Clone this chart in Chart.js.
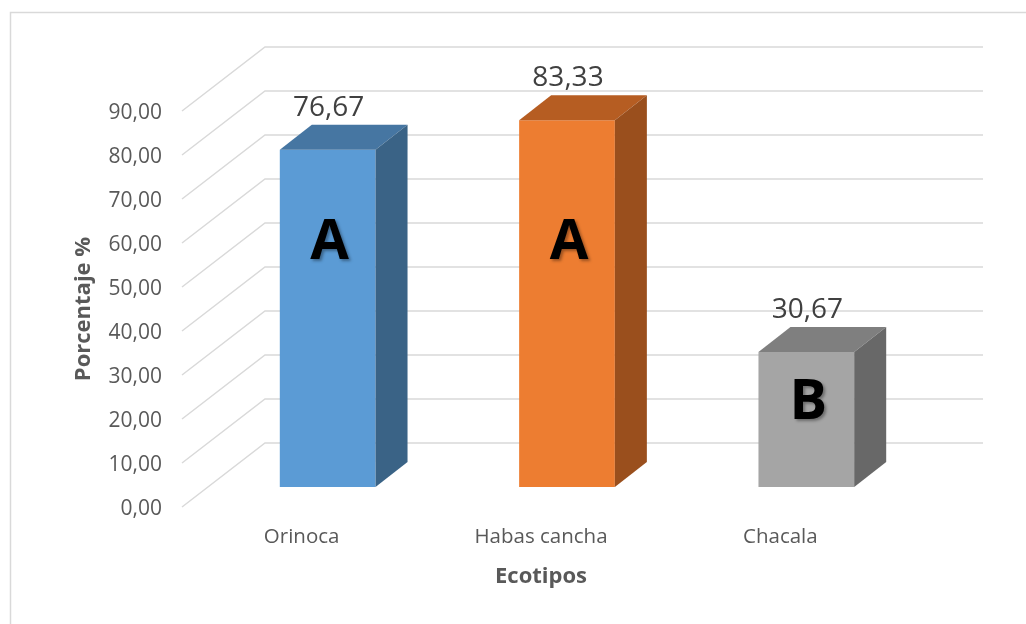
<!DOCTYPE html>
<html lang="es">
<head>
<meta charset="utf-8">
<title>Porcentaje por ecotipo</title>
<script src="https://cdn.jsdelivr.net/npm/chart.js@4.4.1/dist/chart.umd.min.js"></script>
<style>
  html, body { margin: 0; padding: 0; background: #fff; }
  #grafico { display: block; }
</style>
</head>
<body>
<canvas id="grafico" width="1026" height="624"></canvas>
<script>
// Datos
const ecotipos = ["Orinoca", "Habas cancha", "Chacala"];
const porcentajes = [76.67, 83.33, 30.67];
const letras = ["A", "A", "B"];
const marcasY = [0, 10, 20, 30, 40, 50, 60, 70, 80, 90];

// Colores de cada barra: cara frontal, tapa y lateral
const colorFrente = ["#5B9BD5", "#ED7D31", "#A5A5A5"];
const colorTapa = ["#4676A2", "#B65D22", "#7F7F7F"];
const colorLado = ["#3A6386", "#9A4F1D", "#686868"];

// Altura (en unidades del eje) donde va cada letra
const alturaLetras = [55.5, 55.5, 19];

const FUENTE = "'Open Sans', sans-serif";
const GRIS_TEXTO = "#595959";
const GRIS_LINEA = "#D9D9D9";

// Desplazamientos de la perspectiva respecto al plano de las barras
const FRENTE = { x: -26, y: 20 };
const FONDO = { x: 57, y: -44 };
const PROF = { x: 32, y: -25 };

const formato = v => Number(v).toFixed(2).replace(".", ",");

// Dibuja paredes, cuadrícula en 3D, caras de las barras y textos
const efecto3D = {
    id: "efecto3D",
    beforeDatasetsDraw(chart) {
        const { ctx, chartArea, scales } = chart;
        const escY = scales.y;

        ctx.save();
        // marco exterior
        ctx.strokeStyle = GRIS_LINEA;
        ctx.lineWidth = 1.5;
        ctx.strokeRect(10.5, 12.5, 1100, 700);

        // líneas de la pared lateral y del fondo
        marcasY.forEach(v => {
            const y = escY.getPixelForValue(v);
            ctx.beginPath();
            ctx.moveTo(chartArea.left + FRENTE.x, y + FRENTE.y);
            ctx.lineTo(chartArea.left + FONDO.x, y + FONDO.y);
            ctx.lineTo(chartArea.right + FONDO.x, y + FONDO.y);
            ctx.stroke();
        });
        ctx.restore();
    },
    afterDatasetsDraw(chart) {
        const { ctx, chartArea, scales } = chart;
        const meta = chart.getDatasetMeta(0);

        ctx.save();
        meta.data.forEach((barra, i) => {
            const { x, y, base, width } = barra.getProps(["x", "y", "base", "width"], true);
            const izq = x - width / 2;
            const der = x + width / 2;

            // tapa
            ctx.fillStyle = colorTapa[i];
            ctx.beginPath();
            ctx.moveTo(izq, y);
            ctx.lineTo(der, y);
            ctx.lineTo(der + PROF.x, y + PROF.y);
            ctx.lineTo(izq + PROF.x, y + PROF.y);
            ctx.closePath();
            ctx.fill();

            // lateral
            ctx.fillStyle = colorLado[i];
            ctx.beginPath();
            ctx.moveTo(der, y);
            ctx.lineTo(der + PROF.x, y + PROF.y);
            ctx.lineTo(der + PROF.x, base + PROF.y);
            ctx.lineTo(der, base);
            ctx.closePath();
            ctx.fill();

            // valor encima de la barra
            ctx.fillStyle = "#404040";
            ctx.font = "28px " + FUENTE;
            ctx.textAlign = "center";
            ctx.textBaseline = "middle";
            ctx.fillText(formato(porcentajes[i]), x + 1, y - 42);

            // letra de significancia
            ctx.save();
            ctx.shadowColor = "rgba(0,0,0,0.35)";
            ctx.shadowBlur = 3;
            ctx.shadowOffsetX = 2;
            ctx.shadowOffsetY = 2;
            ctx.fillStyle = "#000";
            ctx.font = "bold 56px " + FUENTE;
            ctx.fillText(letras[i], x + 2, scales.y.getPixelForValue(alturaLetras[i]));
            ctx.restore();
        });

        // títulos de los ejes
        ctx.fillStyle = GRIS_TEXTO;
        ctx.font = "bold 22px " + FUENTE;
        ctx.textAlign = "center";
        ctx.textBaseline = "middle";
        ctx.fillText("Ecotipos", (chartArea.left + chartArea.right) / 2 + FRENTE.x, 577);

        ctx.translate(84, (chartArea.top + chartArea.bottom) / 2 + FRENTE.y);
        ctx.rotate(-Math.PI / 2);
        ctx.fillText("Porcentaje %", 0, 0);
        ctx.restore();
    }
};

new Chart(document.getElementById("grafico"), {
    type: "bar",
    data: {
        labels: ecotipos,
        datasets: [{
            data: porcentajes,
            backgroundColor: colorFrente,
            borderWidth: 0,
            barPercentage: 0.4,
            categoryPercentage: 1
        }]
    },
    options: {
        responsive: false,
        animation: false,
        devicePixelRatio: 1,
        layout: { padding: { top: 91, right: 100, left: 0, bottom: 0 } },
        plugins: {
            legend: { display: false },
            tooltip: { enabled: false }
        },
        scales: {
            x: {
                offset: true,
                grid: { display: false, drawTicks: false },
                border: { display: false },
                ticks: {
                    color: GRIS_TEXTO,
                    font: { family: FUENTE, size: 20.5 },
                    padding: 38,
                    labelOffset: FRENTE.x,
                    maxRotation: 0
                },
                afterFit: escala => { escala.height = 137; }
            },
            y: {
                min: 0,
                max: 90,
                grid: { display: false, drawTicks: false },
                border: { display: false },
                afterBuildTicks: escala => {
                    escala.ticks = marcasY.map(v => ({ value: v }));
                },
                ticks: {
                    color: GRIS_TEXTO,
                    font: { family: FUENTE, size: 21 },
                    padding: 46,
                    labelOffset: FRENTE.y + 2,
                    callback: v => formato(v)
                },
                afterFit: escala => { escala.width = 208; }
            }
        }
    },
    plugins: [efecto3D]
});
</script>
</body>
</html>
